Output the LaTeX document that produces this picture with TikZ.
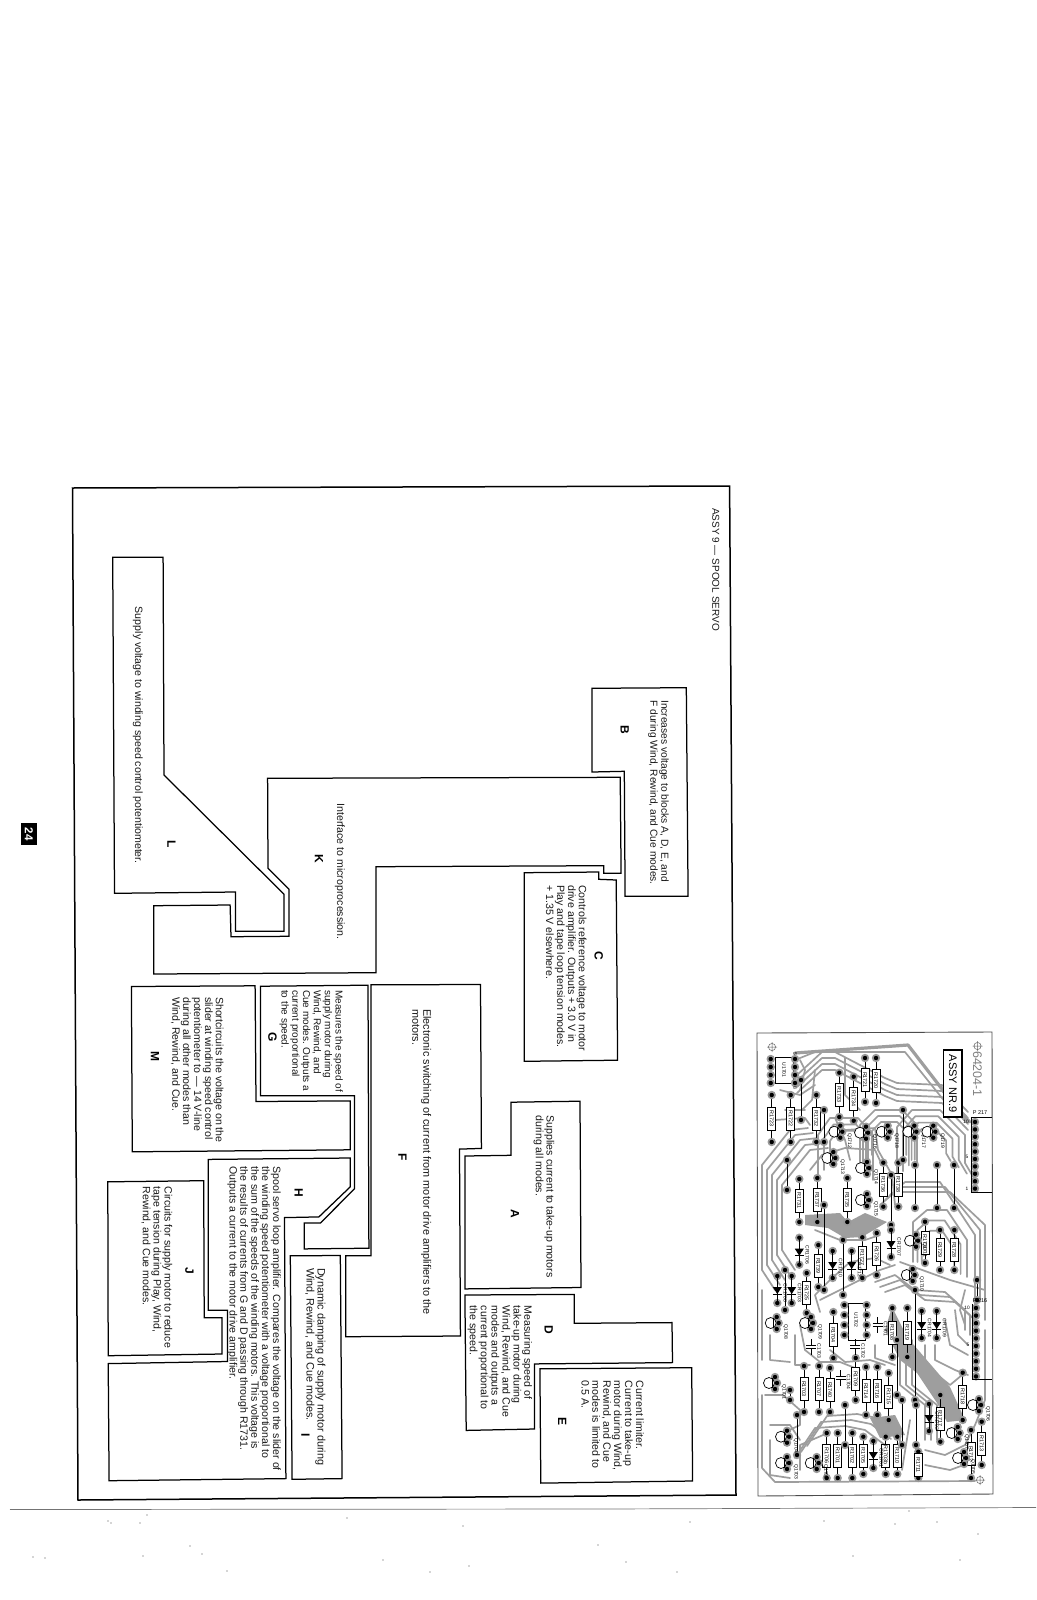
\documentclass[tikz,border=0pt]{standalone}
\usepackage{fontspec}
\setmainfont{Liberation Sans}
\tikzset{
  block/.style={draw=black,line width=1.25pt,line join=miter,fill=white},
  frameline/.style={draw=black,line width=1.5pt},
  txt/.style={rotate=-90,anchor=north west,inner sep=0pt,align=left,font=\fontsize{10.6}{10.9}\selectfont,text=black!90},
  letter/.style={rotate=-90,anchor=center,inner sep=0pt,font=\fontsize{12}{12}\selectfont\bfseries},
  trace/.style={draw=black!38,line width=1.7pt,line join=round,line cap=round},
  fat/.style={draw=black!38,line width=3.2pt,line join=round,line cap=round},
  lead/.style={draw=black,line width=.9pt},
  resbox/.style={rotate=-90,draw=black,line width=.6pt,fill=white,minimum width=23pt,minimum height=8pt,inner sep=0pt,font=\fontsize{5.4}{5}\selectfont},
  pcblabel/.style={rotate=-90,inner sep=0pt,font=\fontsize{5}{5}\selectfont},
  speck/.style={fill=black!70},
}
\newcommand{\pcbpad}[2]{\fill[black!40] (#1,#2) circle (4.2);\fill[black] (#1,#2) circle (2.2);}
\newcommand{\pcbres}[4]{\draw[lead] (#1,#2)--(#1,#3);\pcbpad{#1}{#2}\pcbpad{#1}{#3}\node[resbox] (r#4) at (#1,{(#2+#3)/2}) {#4};}
\newcommand{\pcbwire}[3]{\draw[lead] (#1,#2)--(#1,#3);\pcbpad{#1}{#2}\pcbpad{#1}{#3}}
\newcommand{\pcbq}[3]{\pcbpad{#1+6}{#2-6}\pcbpad{#1+8}{#2}\pcbpad{#1+6}{#2+6}\draw[black,line width=.7pt,fill=white] (#1,#2) circle (5.5);\draw[black,line width=1pt] (#1+3,#2-5)--(#1+3,#2+5);\node[pcblabel] (q#3) at (#1+15,#2+9) {#3};}
\newcommand{\pcbd}[3]{\pcbpad{#1}{#2-14}\pcbpad{#1}{#2+13}\draw[lead] (#1,#2-14)--(#1,#2+13);\fill[black] (#1-4.5,#2-3)--(#1+4.5,#2-3)--(#1,#2+4)--cycle;\draw[black,line width=.8pt] (#1-4.5,#2+4)--(#1+4.5,#2+4);\node[pcblabel] (d#3) at (#1+8,#2+3) {#3};}
\newcommand{\pcbcap}[3]{\draw[lead] (#1,#2-8)--(#1,#2-1.5) (#1,#2+1.5)--(#1,#2+8);\draw[black,line width=.8pt] (#1-5,#2-1.5)--(#1+5,#2-1.5) (#1-5,#2+1.5)--(#1+5,#2+1.5);\node[pcblabel] (c#3) at (#1+8,#2+4) {#3};}
\newcommand{\pcbmark}[2]{\draw[black!60,line width=.5pt] (#1,#2) circle (3.6) (#1-5,#2)--(#1+5,#2) (#1,#2-5)--(#1,#2+5);}
\begin{document}
\begin{tikzpicture}[x=1pt,y=-1pt]
\useasboundingbox (0,0) rectangle (1036,1600);
\fill[white] (0,0) rectangle (1036,1600);

% page number
\fill[black] (21,823) rectangle (37,845);
\node[rotate=-90,text=white,inner sep=0pt,font=\fontsize{11.5}{12}\selectfont\bfseries] (pagenum) at (29,834) {24};

% outer frame
\draw[frameline] (72.5,488)--(729.6,486)--(736,1495)--(78,1500)--cycle;
\node[txt,font=\fontsize{10}{11}\selectfont] (title) at (719.5,508) {ASSY 9 — SPOOL SERVO};

% blocks
\draw[block] (112.7,557.3)--(163.1,557.3)--(164,775)--(284.1,894.3)--(284.1,931.3)--(235.4,931.3)--(235.4,892)--(114.5,893.3)--cycle;
\draw[block] (267.6,778.3)--(620.2,777.3)--(621.1,873.3)--(603.7,873.3)--(603.7,865.7)--(376,866.7)--(376,972.7)--(153.7,974)--(153.7,905.7)--(230.1,905)--(231,936.7)--(289,936.3)--(289,889.3)--(268,868.3)--cycle;
\draw[block] (592.1,688.3)--(686.3,687.7)--(688.1,896.3)--(625.1,896.3)--(624.3,771.3)--(592.1,772)--cycle;
\draw[block] (524.3,872.7)--(598.8,872)--(598.8,879.3)--(616.2,880)--(617.6,1060.2)--(524.3,1061.3)--cycle;
\draw[block] (131.4,986.5)--(255.1,985.8)--(256,1101.5)--(350.2,1100.9)--(350.2,1149.8)--(132.3,1151.8)--cycle;
\draw[block] (260.4,986.2)--(368,985.2)--(368.9,1248.2)--(304.2,1248.9)--(304.2,1223.1)--(320.3,1223.1)--(354.6,1188.7)--(354.6,1095.7)--(260.4,1095.7)--cycle;
\draw[block] (371.1,984.8)--(480.5,984.5)--(481.4,1148.4)--(459.5,1149.1)--(460.4,1336)--(345.7,1336.7)--(345.7,1255.8)--(371.1,1255.8)--cycle;
\draw[block] (510.9,1102.2)--(580,1101.2)--(581,1287.5)--(464.9,1288.9)--(464.9,1156)--(510.9,1155.3)--cycle;
\draw[block] (464.9,1295)--(574.3,1294.4)--(574.3,1323.3)--(672,1322.6)--(672.5,1362.6)--(534.5,1363.9)--(534.5,1429)--(466.2,1430.4)--cycle;
\draw[block] (539.9,1368.8)--(691.7,1367.7)--(692.6,1481)--(540.8,1483.1)--cycle;
\draw[block] (290.3,1255.8)--(340.3,1255.5)--(342.1,1478.6)--(292.1,1479.3)--cycle;
\draw[block] (208.2,1159.4)--(350.2,1158)--(350.2,1186.9)--(318.9,1216.9)--(284.5,1217.6)--(285.9,1478.6)--(109.1,1480.7)--(108.2,1363.6)--(227.4,1361.5)--(227.4,1310.2)--(208.2,1310.2)--cycle;
\draw[block] (107.8,1181.8)--(203.7,1180.7)--(204.2,1317.8)--(222,1317.8)--(222,1354)--(108.2,1355.7)--cycle;

% block texts
\node[txt] (tL) at (143,606.7) {Supply voltage to winding speed control potentiometer.};
\node[letter] (lL) at (171.6,844) {L};
\node[txt,font=\fontsize{10.25}{10.9}\selectfont] (tB) at (669,700) {Increases voltage to blocks A, D, E, and\\F during Wind, Rewind, and Cue modes.};
\node[letter] (lB) at (624.7,730) {B};
\node[txt] (tK) at (345,803.3) {Interface to microprocession.};
\node[letter] (lK) at (319,859) {K};
\node[txt] (tC) at (586.8,885) {Controls reference voltage to motor\\drive amplifier. Outputs + 3.0 V in\\Play and tape loop tension modes.\\+ 1.35 V elsewhere.};
\node[letter] (lC) at (598.8,956) {C};
\node[txt] (tM) at (223.8,996.9) {Shortcircuits the voltage on the\\slider at winding speed control\\potentiometer to — 14 V-line\\during all other modes than\\Wind, Rewind, and Cue.};
\node[letter] (lM) at (155,1056) {M};
\node[txt,font=\fontsize{10}{10.8}\selectfont] (tG) at (343,990) {Measures the speed of\\supply motor during\\Wind, Rewind, and\\Cue modes. Outputs a\\current proportional\\to the speed.};
\node[letter] (lG) at (272.5,1037) {G};
\node[txt,font=\fontsize{10.85}{10.9}\selectfont] (tF) at (431.4,1008.9) {Electronic switching of current from motor drive amplifiers to the\\motors.};
\node[letter] (lF) at (402.4,1157) {F};
\node[txt] (tA) at (554.6,1115.3) {Supplies current to take-up motors\\during all modes.};
\node[letter] (lA) at (515,1213.8) {A};
\node[txt] (tD) at (532.3,1305.7) {Measuring speed of\\take-up motor during\\Wind, Rewind, and Cue\\modes and outputs a\\current proportional to\\the speed.};
\node[letter] (lD) at (548.8,1330.2) {D};
\node[txt] (tE) at (643.9,1380.5) {Current limiter.\\Current to take-up\\motor during Wind,\\Rewind, and Cue\\modes is limited to\\0.5 A.};
\node[letter] (lE) at (562.2,1421.8) {E};
\node[txt,font=\fontsize{10.85}{10.9}\selectfont] (tI) at (325.6,1267.9) {Dynamic damping of supply motor during\\Wind, Rewind, and Cue modes.};
\node[letter] (lI) at (305.5,1434.9) {I};
\node[txt] (tH) at (281,1166.3) {Spool servo loop amplifier. Compares the voltage on the slider of\\the winding speed potentiometer with a voltage proportional to\\the sum of the speeds of the winding motors. This voltage is\\the results of currents from G and D passing through R1731.\\Outputs a current to the motor drive amplifier.};
\node[letter] (lH) at (298.8,1193.1) {H};
\node[txt] (tJ) at (172.5,1186.3) {Circuits for supply motor to reduce\\tape tension during Play, Wind,\\Rewind, and Cue modes.};
\node[letter] (lJ) at (189.5,1271.3) {J};

% ---------- circuit board ----------
\draw[black!70,line width=.9pt] (757,1033)--(992,1032)--(993,1494)--(758,1496)--cycle;
\fill[black!38] (892,1307)--(907,1337)--(950,1387)--(965,1420)--(947,1422)--(937,1403)--(917,1373)--(900,1360)--(885,1330)--cycle;
\fill[black!38] (805,1215)--(840,1213)--(848,1222)--(865,1213)--(887,1222)--(862,1237)--(845,1238)--(828,1228)--(805,1225)--cycle;
\fill[black!38] (870,1418)--(895,1415)--(905,1435)--(880,1438)--cycle;
% main traces
\draw[fat] (795,1053)--(908,1045)--(962,1115)--(970,1122);
\foreach \d in {0,6,12,18}{
  \draw[trace,shift={(0,\d)}] (797,1075)--(822,1052)--(835,1052)--(885,1078)--(897,1083)--(942,1085)--(968,1112);
}
\draw[trace] (795,1060)--(815,1052)--(905,1052)--(950,1108);
% octagonal loops around the upper transistors
\foreach \s in {1,.82,.64,.46}{
  \draw[trace,shift={(930,1145)},scale=\s] (-33,32)--(-33,-18)--(-18,-35)--(10,-35)--(35,-10)--(35,18)--(45,35);
}
\foreach \s in {1,.8,.6}{
  \draw[trace,shift={(890,1140)},scale=\s] (-30,25)--(-30,-15)--(-15,-30)--(12,-30)--(27,-15)--(27,25);
}
\foreach \s in {1,.8,.6}{
  \draw[trace,shift={(848,1150)},scale=\s] (-30,25)--(-30,-15)--(-18,-32)--(10,-32)--(25,-15)--(25,30);
}
% left bundle
\foreach \d in {0,5,10,15,20}{
  \draw[trace] ({762+\d},{1165+\d})--({762+\d},{1270-\d})--({775+\d},{1290-\d});
  \draw[trace] ({762+\d},{1165+\d})--({790+\d},{1130+\d})--({808+\d},{1128+\d});
}
\draw[trace] (785,1110)--(805,1110);
\draw[trace] (775,1120)--(805,1118)--(810,1125);
\draw[trace] (815,1070)--(812,1100)--(802,1110);
\draw[trace] (780,1090)--(800,1095)--(815,1085);
\draw[trace] (800,1060)--(805,1070)--(800,1090);
\draw[trace] (835,1118)--(845,1140)--(850,1160);
\draw[trace] (845,1058)--(845,1095)--(860,1110);
\draw[trace] (810,1170)--(822,1155)--(845,1148)--(875,1150)--(882,1165);
\draw[trace] (845,1130)--(875,1128)--(878,1150)--(892,1175)--(895,1205);
\draw[trace] (815,1230)--(840,1240)--(865,1240)--(880,1235);
% right middle
\foreach \d in {0,5,10}{
  \draw[trace] ({880+\d},{1205-\d})--({895+\d},{1192-\d})--({950-\d},{1192-\d})--({985-\d},{1225+\d})--({985-\d},{1295+\d});
}
\foreach \s in {1,.8,.6}{
  \draw[trace,shift={(935,1262)},scale=\s] (-22,0)--(-22,-40)--(-8,-52)--(12,-52)--(32,-22)--(32,15);
}
\draw[trace] (900,1262)--(950,1280)--(985,1290)--(985,1320);
% centre and lower routes
\foreach \d in {0,5,10}{
  \draw[trace,shift={(\d,\d)}] (875,1282)--(895,1275)--(915,1290)--(945,1292)--(965,1310)--(965,1330);
}
\draw[trace] (820,1300)--(840,1290)--(880,1270)--(895,1265);
\draw[trace] (820,1312)--(815,1295)--(835,1275);
\draw[trace] (830,1280)--(850,1262)--(875,1258)--(890,1265);
\draw[trace] (800,1325)--(805,1350)--(820,1362)--(840,1362)--(860,1370);
\draw[trace] (795,1335)--(795,1365)--(810,1365);
\draw[trace] (770,1335)--(770,1360)--(790,1362);
\draw[trace] (762,1290)--(762,1360);
\draw[trace] (830,1350)--(845,1362)--(870,1360)--(885,1365);
\draw[trace] (875,1345)--(875,1358)--(895,1365);
\draw[trace] (762,1395)--(762,1468)--(775,1482)--(975,1481);
\draw[trace] (765,1395)--(783,1395)--(800,1410)--(800,1425)--(785,1432);
\foreach \d in {0,6,12}{
  \draw[trace,shift={(\d,-\d)}] (795,1458)--(815,1428)--(845,1426)--(865,1430)--(885,1445);
}
\draw[trace] (800,1470)--(800,1445)--(830,1432);
\draw[trace] (770,1440)--(770,1475)--(790,1478);
\draw[trace] (770,1425)--(790,1425)--(800,1440);
\draw[trace] (885,1420)--(900,1440)--(900,1445);
\draw[trace] (910,1420)--(902,1470);
\draw[trace] (925,1450)--(945,1455)--(965,1445)--(975,1425)--(985,1400)--(985,1330);
\draw[trace] (925,1465)--(950,1470)--(972,1462);
\foreach \d in {0,6,12}{
  \draw[trace,shift={(\d,0)}] (900,1340)--(900,1385)--(925,1405)--(925,1440);
}
\draw[trace] (925,1345)--(925,1365)--(950,1385)--(962,1375);
\draw[trace] (935,1345)--(935,1360)--(955,1370)--(968,1375);
\draw[trace] (945,1320)--(950,1345)--(968,1355);
\draw[trace] (955,1310)--(958,1335)--(968,1345);
\draw[trace] (965,1290)--(960,1310)--(965,1325);
% fiducials and identification
\pcbmark{772}{1047}
\pcbmark{980}{1480}
\draw[black,line width=1.1pt,fill=white] (943.7,1050) rectangle (962,1117);
\node[rotate=-90,inner sep=0pt,font=\fontsize{11}{13}\selectfont] (assy) at (953,1083.5) {ASSY NR.9};
\node[rotate=-90,inner sep=0pt,text=black!50,font=\fontsize{12.5}{12}\selectfont] (pcbno) at (977.5,1074) {64204-1};
\pcbmark{977.5}{1046}
% IC outlines
\draw[black,line width=.6pt] (775,1057) rectangle (793,1083);
\node[pcblabel] (u1) at (784,1070) {U1701};
\foreach \yy in {1059,1067,1075,1083}{\pcbpad{770.7}{\yy}\pcbpad{795}{\yy}}
\node[pcblabel] at (795,1054) {5};
\node[pcblabel] at (795,1088) {8};
\draw[black,line width=.6pt] (848,1303) rectangle (865,1340);
\node[pcblabel] (u2) at (856,1320) {U1702};
\foreach \yy in {1305,1315,1325,1335}{\pcbpad{844.3}{\yy}\pcbpad{866.7}{\yy}}
% resistors
\pcbres{771.7}{1095}{1142}{R1723}
\pcbres{790.7}{1095}{1142}{R1722}
\pcbres{816.3}{1095}{1142}{R1732}
\pcbres{839.3}{1072.7}{1117}{R1733}
\pcbres{853.7}{1076.7}{1120.7}{R1734}
\pcbres{865}{1058}{1102}{R1721}
\pcbres{876}{1058}{1103}{R1720}
\pcbres{799.3}{1179}{1222}{R1731}
\pcbres{817.3}{1178}{1222}{R1737}
\pcbres{847.3}{1178}{1222}{R1735}
\pcbres{883.3}{1162.7}{1206.7}{R1736}
\pcbres{898.3}{1162.7}{1206.7}{R1738}
\pcbres{925}{1221.7}{1263}{R1730}
\pcbres{940}{1230}{1270}{R1729}
\pcbres{954.3}{1230}{1270}{R1728}
\pcbres{862.3}{1237.3}{1278}{R1727}
\pcbres{876.7}{1233}{1275}{R1726}
\pcbres{818.3}{1245}{1287}{R1739}
\pcbres{806.7}{1273}{1313}{R1725}
\pcbres{833.3}{1312}{1358}{R1704}
\pcbres{892.3}{1308}{1357}{R1708}
\pcbres{907.3}{1308}{1357}{R1719}
\pcbres{855.7}{1358}{1400}{R1709}
\pcbres{866}{1367}{1415}{R1714}
\pcbres{877.3}{1367}{1415}{R1716}
\pcbres{888.7}{1373}{1420}{R1715}
\pcbres{804}{1366}{1412}{R1703}
\pcbres{819}{1366}{1412}{R1707}
\pcbres{830}{1368}{1412}{R1740}
\pcbres{962.7}{1372.7}{1420}{R1718}
\pcbres{940.3}{1395}{1441.7}{R1717}
\pcbres{826.7}{1433}{1478}{R1706}
\pcbres{837.7}{1433}{1478}{R1701}
\pcbres{852.3}{1433}{1478}{R1702}
\pcbres{863.3}{1436.7}{1474}{R1705}
\pcbres{885.7}{1436.7}{1474}{R1703b}
\pcbres{897.3}{1436.7}{1474}{R1710}
\pcbres{918.3}{1451.7}{1478}{R1711}
\pcbres{971}{1430}{1478}{R1712}
\pcbres{981.7}{1421.7}{1465}{R1713}
% plain wires
\pcbwire{824}{1110}{1142}
\pcbwire{801}{1080}{1120}
\pcbwire{903}{1110}{1160}
\pcbwire{787}{1160}{1190}
\pcbwire{915}{1165}{1208}
\pcbwire{937}{1165}{1208}
\pcbwire{954}{1165}{1208}
\pcbwire{891}{1175}{1225}
\pcbwire{843}{1240}{1295}
\pcbwire{824}{1205}{1290}
\pcbwire{785}{1270}{1310}
\pcbwire{915}{1290}{1400}
\pcbwire{897}{1340}{1395}
\pcbwire{845}{1405}{1445}
\pcbwire{797}{1415}{1455}
\pcbwire{916}{1405}{1445}
\pcbwire{902}{1400}{1445}
\pcbwire{977}{1280}{1300}
\pcbwire{790}{1390}{1400}
% transistors
\pcbq{834.3}{1131.7}{Q1712}
\pcbq{860}{1132.7}{Q1716}
\pcbq{881.7}{1131.7}{Q1718}
\pcbq{908.3}{1131.7}{Q1717}
\pcbq{927.3}{1131.7}{Q1719}
\pcbq{827.3}{1158}{Q1713}
\pcbq{861}{1168}{Q1714}
\pcbq{861}{1200}{Q1715}
\pcbq{910}{1240.7}{Q1711}
\pcbq{906.7}{1275}{Q1710}
\pcbq{770.7}{1323}{Q1708}
\pcbq{805}{1323}{Q1709}
\pcbq{769}{1383}{Q1701}
\pcbq{781}{1436.7}{Q1704}
\pcbq{781}{1463}{Q1703}
\pcbq{810.7}{1463}{Q1702}
\pcbq{973}{1405}{Q1706}
\pcbq{951.7}{1433}{Q1707}
\pcbq{958}{1458}{Q1705}
% diodes
\pcbd{799.3}{1251.7}{CR1706}
\pcbd{832.7}{1265}{CR1710}
\pcbd{851.7}{1265}{CR1712}
\pcbd{891}{1244}{CR1707}
\pcbd{777.3}{1290}{CR1708}
\pcbd{791.7}{1290}{CR1703}
\pcbd{921.7}{1325}{CR1704}
\pcbd{936.7}{1325}{CR1709}
\pcbd{929}{1418}{CR1702}
\pcbd{873.3}{1455}{CR1701}
% capacitors
\pcbcap{811}{1347}{C1703}
\pcbcap{877.7}{1325}{C1701}
\pcbcap{855}{1347}{C1702}
\pcbcap{840.7}{1378}{C1704}
% connectors
\foreach \k in {0,...,9}{\pcbpad{975}{1122+7.4*\k}\pcbpad{976}{1308+7.6*\k}}
\draw[black,line width=.6pt] (992,1117)--(971,1117)--(971,1192)--(992,1192);
\draw[black,line width=.6pt] (972,1304)--(972,1379)--(992,1379);
\node[inner sep=0pt,font=\fontsize{5.5}{6}\selectfont] (p217) at (980,1113) {P 217};
\node[inner sep=0pt,font=\fontsize{5.5}{6}\selectfont] (p216) at (980,1301) {P 216};
\node[inner sep=0pt,font=\fontsize{4.8}{5}\selectfont] (n10a) at (966,1122) {10};
\node[inner sep=0pt,font=\fontsize{4.8}{5}\selectfont] (n5a) at (967,1157) {5};
\node[inner sep=0pt,font=\fontsize{4.8}{5}\selectfont] (n1a) at (967,1189) {1};
\node[inner sep=0pt,font=\fontsize{4.8}{5}\selectfont] (n10b) at (967,1308) {10};
\node[inner sep=0pt,font=\fontsize{4.8}{5}\selectfont] (n5b) at (968,1345) {5};

% scan rule and specks
\draw[black!55,line width=.7pt] (10,1509.5)--(600,1509)--(1036,1507.5);
\foreach \sx/\sy in {909/1511,824/1521,937/1522,111/1523,147/1515,202/1554,227/1571,430/1572,853/1556,677/1572,463/1526,33/1557,45/1558,469/1566,108/1521,140/1523,190/1546,143/1556,347/1518,383/1560,598/1545,690/1522,895/1524,978/1534,960/1560,626/1562}
  {\fill[speck] (\sx,\sy) circle (.6);}
\end{tikzpicture}
\end{document}
